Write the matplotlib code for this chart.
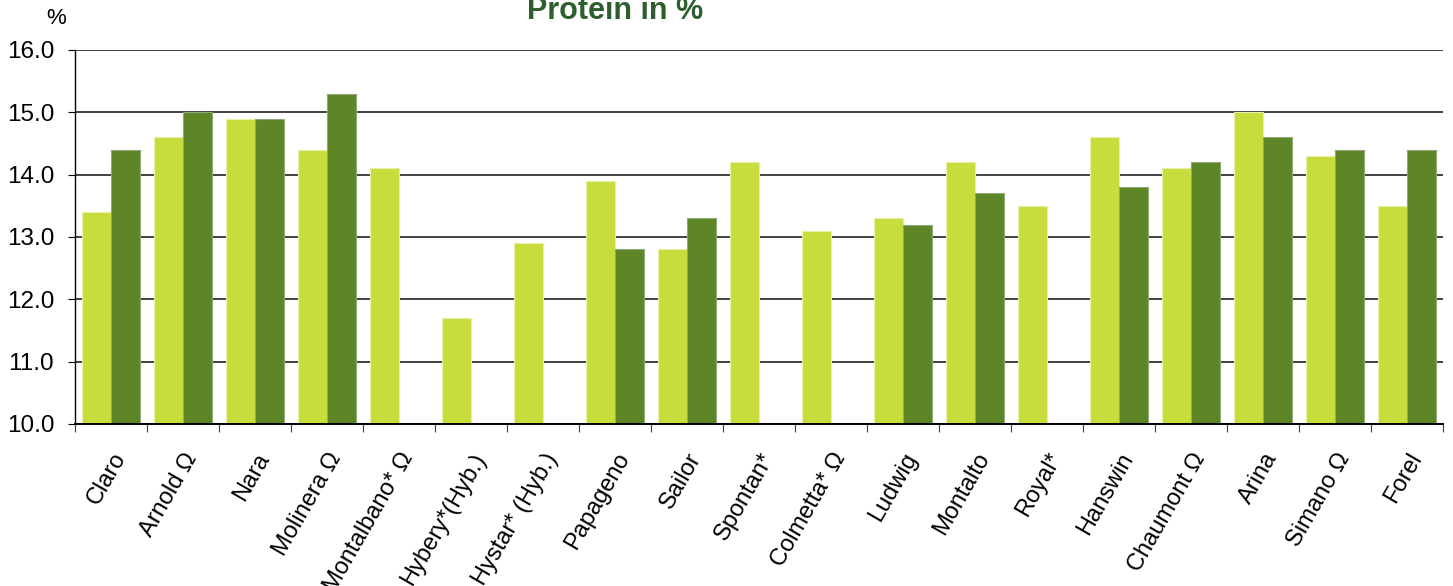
import matplotlib.pyplot as plt
import numpy as np

plt.rcParams['font.family'] = ['Liberation Sans', 'DejaVu Sans']

# Varieties and protein values (%)
varieties = ['Claro', 'Arnold Ω', 'Nara', 'Molinera Ω', 'Montalbano* Ω',
             'Hybery*(Hyb.)', 'Hystar* (Hyb.)', 'Papageno', 'Sailor', 'Spontan*',
             'Colmetta* Ω', 'Ludwig', 'Montalto', 'Royal*', 'Hanswin',
             'Chaumont Ω', 'Arina', 'Simano Ω', 'Forel']
series_a = [13.4, 14.6, 14.9, 14.4, 14.1, 11.7, 12.9, 13.9, 12.8, 14.2,
            13.1, 13.3, 14.2, 13.5, 14.6, 14.1, 15.0, 14.3, 13.5]
series_b = [14.4, 15.0, 14.9, 15.3, np.nan, np.nan, np.nan, 12.8, 13.3, np.nan,
            np.nan, 13.2, 13.7, np.nan, 13.8, 14.2, 14.6, 14.4, 14.4]

light = '#c8dc3c'
dark = '#5e8526'

fig = plt.figure(figsize=(14.53, 5.86), dpi=100)
ax = fig.add_axes([0.0516, 0.2765, 0.9415, 0.6382])

x = np.arange(len(varieties))
w = 0.4
base = 10.0
a = np.array(series_a)
b = np.array(series_b)
ax.bar(x - w / 2, a - base, w, bottom=base, color=light, edgecolor='#e8f0a8', linewidth=0.8, zorder=2)
mask = ~np.isnan(b)
ax.bar(x[mask] + w / 2, b[mask] - base, w, bottom=base, color=dark, edgecolor='#8fa878', linewidth=0.8, zorder=2)

ax.set_xlim(-0.5, len(varieties) - 0.5)
ax.set_ylim(10, 16)
yt = np.arange(10, 16.1, 1.0)
ax.set_yticks(yt)
ax.set_yticklabels([f'{v:.1f}' for v in yt], fontsize=17.5)
ax.yaxis.grid(True, color='#404040', linewidth=1.4, zorder=0)
ax.set_axisbelow(True)

# category ticks on boundaries, labels at centers
ax.set_xticks(np.arange(-0.5, len(varieties), 1.0))
ax.set_xticklabels([])
ax.set_xticks(x, minor=True)
ax.set_xticklabels(varieties, minor=True, rotation=60, ha='right',
                   rotation_mode='anchor', fontsize=17)
ax.tick_params(axis='x', which='minor', length=0, pad=18)
ax.tick_params(axis='x', which='major', length=6, color='#404040', direction='out')
ax.tick_params(axis='y', length=5, direction='out', pad=10)

for s in ['top', 'right']:
    ax.spines[s].set_visible(False)
ax.spines['left'].set_linewidth(1.0)
ax.spines['bottom'].set_linewidth(1.4)
ax.spines['bottom'].set_zorder(4)

fig.text(0.0385, 0.969, '%', fontsize=16, ha='center', va='center')
fig.text(0.423, 0.968, 'Protein in %', fontsize=22, fontweight='bold',
         color='#2e5e2e', ha='center', va='baseline')

fig.savefig('out.png', dpi=100)
